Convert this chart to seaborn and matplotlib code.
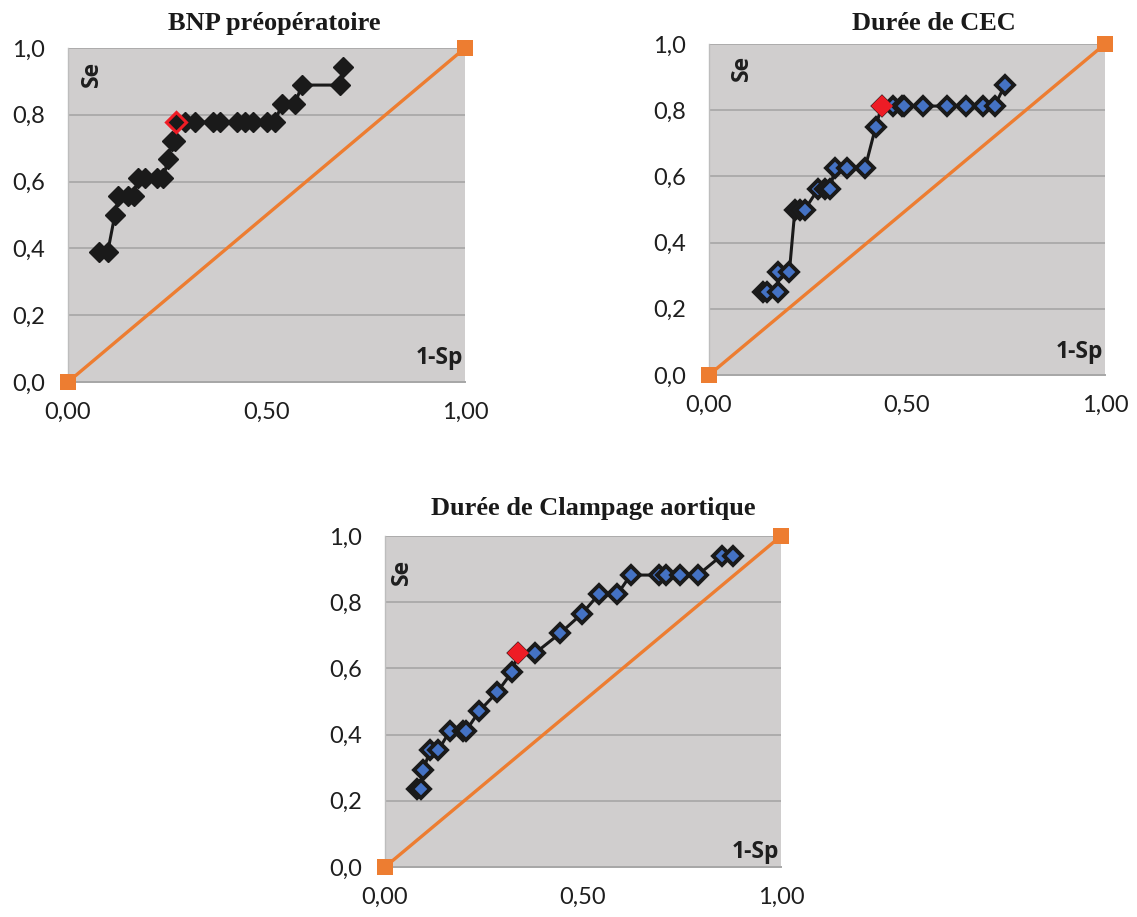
import numpy as np
import pandas as pd
import seaborn as sns
import matplotlib.pyplot as plt

# ROC points (1-Sp, Se)
bnp_x = [0.078, 0.100, 0.118, 0.127, 0.150, 0.165, 0.176, 0.194, 0.224, 0.240,
         0.252, 0.262, 0.270, 0.272, 0.295, 0.320, 0.365, 0.383, 0.426, 0.446,
         0.466, 0.501, 0.521, 0.539, 0.572, 0.589, 0.685, 0.693]
bnp_y = [0.389, 0.389, 0.500, 0.556, 0.556, 0.556, 0.611, 0.611, 0.611, 0.611,
         0.667, 0.722, 0.722, 0.778, 0.778, 0.778, 0.778, 0.778, 0.778, 0.778,
         0.778, 0.778, 0.778, 0.833, 0.833, 0.889, 0.889, 0.944]
bnp_best = (0.272, 0.778)

cec_x = [0.137, 0.146, 0.175, 0.175, 0.203, 0.217, 0.230, 0.242, 0.276, 0.293,
         0.306, 0.318, 0.348, 0.394, 0.421, 0.436, 0.465, 0.487, 0.492, 0.540,
         0.602, 0.648, 0.693, 0.721, 0.747]
cec_y = [0.250, 0.250, 0.250, 0.3125, 0.3125, 0.500, 0.500, 0.500, 0.5625, 0.5625,
         0.5625, 0.625, 0.625, 0.625, 0.750, 0.8125, 0.8125, 0.8125, 0.8125, 0.8125,
         0.8125, 0.8125, 0.8125, 0.8125, 0.875]
cec_best = (0.436, 0.8125)

clamp_x = [0.080, 0.090, 0.097, 0.114, 0.135, 0.164, 0.198, 0.205, 0.238, 0.284,
           0.320, 0.337, 0.380, 0.442, 0.497, 0.540, 0.587, 0.620, 0.693, 0.710,
           0.745, 0.790, 0.850, 0.878]
clamp_y = [0.235, 0.235, 0.294, 0.353, 0.353, 0.412, 0.412, 0.412, 0.471, 0.529,
           0.588, 0.647, 0.647, 0.706, 0.765, 0.824, 0.824, 0.882, 0.882, 0.882,
           0.882, 0.882, 0.941, 0.941]
clamp_best = (0.337, 0.647)

ref_x = [0.0, 1.0]
ref_y = [0.0, 1.0]

y_ticks = [0.0, 0.2, 0.4, 0.6, 0.8, 1.0]
y_labels = ['0,0', '0,2', '0,4', '0,6', '0,8', '1,0']
x_ticks = [0.0, 0.5, 1.0]
x_labels = ['0,00', '0,50', '1,00']

BG = '#D0CECE'
GRID = '#A6A6A6'
ORANGE = '#ED7D31'
TICKFONT = 'Lato'
TXT = '#1E1E1E'


def roc_panel(ax, xs, ys, best, title, title_pos, se_pos, sp_pos, blue=True):
    ax.set_facecolor(BG)
    ax.set_xlim(0, 1)
    ax.set_ylim(0, 1)
    for v in y_ticks[1:]:
        ax.axhline(v, color=GRID, lw=1.2, zorder=0)

    sns.lineplot(x=ref_x, y=ref_y, ax=ax, color=ORANGE, lw=2.4, marker='s',
                 markersize=11, markeredgewidth=0, clip_on=False, zorder=3,
                 estimator=None, sort=False)

    df = pd.DataFrame({'fpr': xs, 'se': ys})
    if blue:
        sns.lineplot(data=df, x='fpr', y='se', ax=ax, color='#1A1A1A', lw=2.2,
                     marker='D', markersize=9, markerfacecolor='#4472C4',
                     markeredgecolor='#1A1A1A', markeredgewidth=2.8,
                     estimator=None, sort=False, zorder=4)
        ax.plot(best[0], best[1], marker='D', markersize=11, color='#EE1C25',
                markeredgewidth=0, zorder=5)
    else:
        sns.lineplot(data=df, x='fpr', y='se', ax=ax, color='#1A1A1A', lw=2.2,
                     marker='D', markersize=10, markerfacecolor='#1A1A1A',
                     markeredgecolor='#1A1A1A', markeredgewidth=1,
                     estimator=None, sort=False, zorder=4)
        ax.plot(best[0], best[1], marker='D', markersize=10, markerfacecolor='#1A1A1A',
                markeredgecolor='#EE1C25', markeredgewidth=2.2, zorder=5)

    ax.set_xticks(x_ticks)
    ax.set_xticklabels(x_labels, fontsize=17, family=TICKFONT, color=TXT)
    ax.set_yticks(y_ticks)
    ax.set_yticklabels(y_labels, fontsize=17, family=TICKFONT, color=TXT)
    ax.tick_params(axis='x', length=6, width=1, color=GRID, pad=8)
    ax.tick_params(axis='y', length=7, width=1.2, color=GRID, pad=9.5)
    ax.set_xlabel('')
    ax.set_ylabel('')
    for s in ['top', 'right']:
        ax.spines[s].set_visible(False)
    ax.spines['left'].set_color('#BDBDBD')
    ax.spines['left'].set_linewidth(1)
    ax.spines['bottom'].set_color(GRID)
    ax.spines['bottom'].set_linewidth(1.4)

    ax.text(se_pos[0], se_pos[1], 'Se', rotation=90, ha='center', va='top',
            fontsize=16.5, fontweight='bold', family='Open Sans', color=TXT,
            transform=ax.transAxes)
    ax.text(sp_pos[0], sp_pos[1], '1-Sp', ha='right', va='center',
            fontsize=16.5, fontweight='bold', family='Open Sans', color=TXT,
            transform=ax.transAxes)
    ax.figure.text(title_pos[0], title_pos[1], title, ha='center', va='baseline',
                   fontsize=19, fontweight='bold', family='Liberation Serif',
                   color='#1A1A1A')


sns.set_style('white')
fig = plt.figure(figsize=(11.37, 9.17), dpi=100)

ax1 = fig.add_axes([68 / 1137, 1 - 382 / 917, 397 / 1137, 334 / 917])
ax2 = fig.add_axes([709 / 1137, 1 - 375 / 917, 396 / 1137, 331 / 917])
ax3 = fig.add_axes([385 / 1137, 1 - 867 / 917, 396 / 1137, 331 / 917])

roc_panel(ax1, bnp_x, bnp_y, bnp_best, 'BNP préopératoire',
          (274 / 1137, 1 - 30 / 917), (0.06, 0.96), (0.995, 0.072), blue=False)
roc_panel(ax2, cec_x, cec_y, cec_best, 'Durée de CEC',
          (934 / 1137, 1 - 30 / 917), (0.083, 0.967), (0.995, 0.07))
roc_panel(ax3, clamp_x, clamp_y, clamp_best, 'Durée de Clampage aortique',
          (593 / 1137, 1 - 515 / 917), (0.043, 0.93), (0.995, 0.045))

fig.savefig('out.png', dpi=100)
